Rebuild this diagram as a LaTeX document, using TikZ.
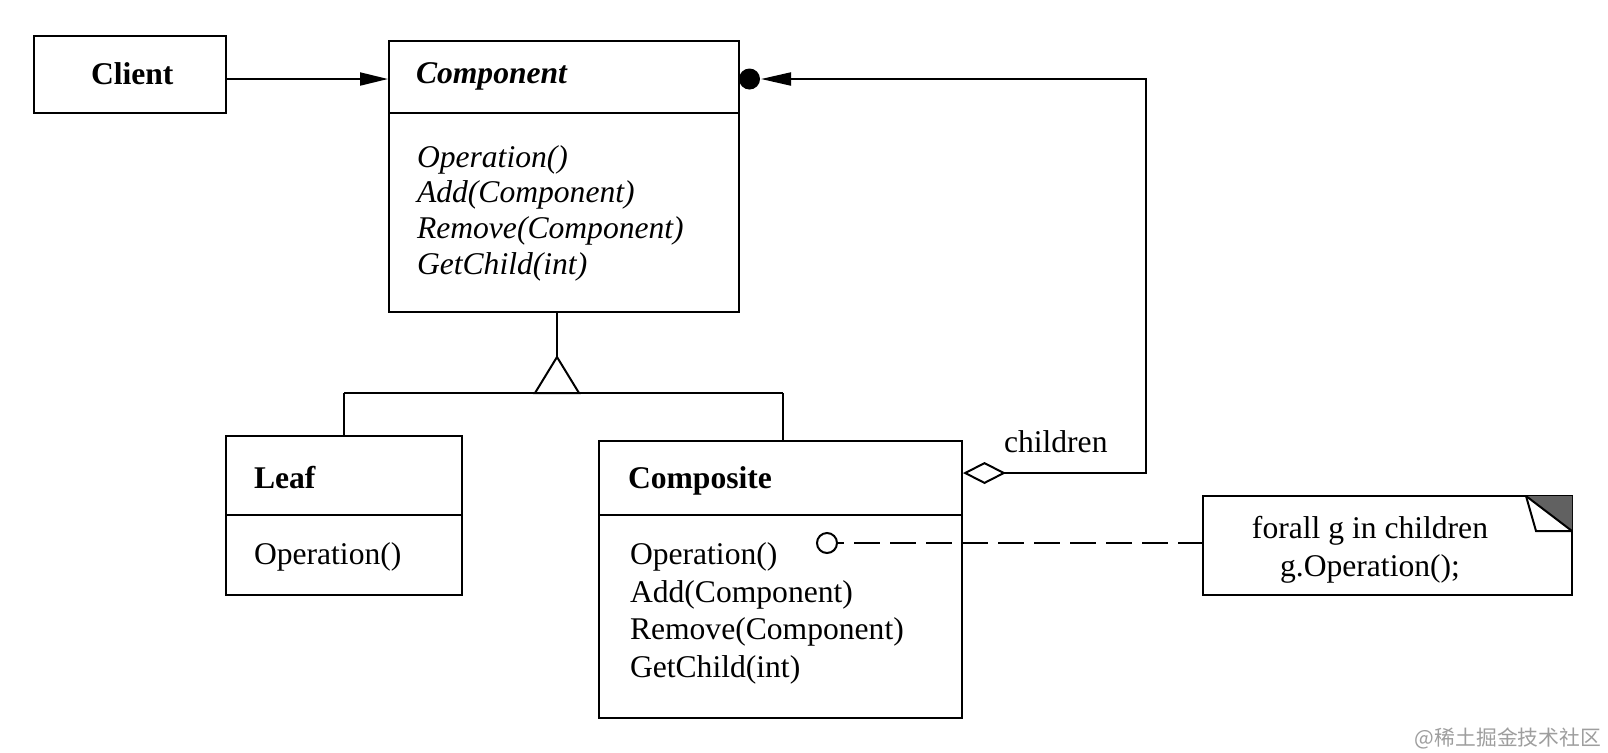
\documentclass[tikz,border=0pt]{standalone}
\usepackage{fontspec}
\setmainfont{Liberation Serif}
\newfontfamily\cjkwm{Noto Sans CJK SC}
\usetikzlibrary{arrows.meta}
\newcommand\umlfs{\fontsize{15.8pt}{19pt}\selectfont}
\begin{document}
\begin{tikzpicture}[x=0.5pt,y=-0.5pt, line width=1pt,
  box/.style={draw, line width=1pt, inner sep=0pt, fill=white},
  txt/.style={anchor=base west, inner sep=0pt, font=\umlfs},
  ctxt/.style={anchor=base, inner sep=0pt, font=\umlfs},
  ital/.style={txt, font=\umlfs\itshape},
  bold/.style={txt, font=\umlfs\bfseries},
  arr/.style={-{Triangle[length=14pt,width=6.5pt]}}]
\useasboundingbox (0,0) rectangle (1608,752);
\fill[white] (0,0) rectangle (1608,752);

% boxes
\node[box, minimum width=96pt, minimum height=38.5pt] (client) at (130,74.5) {};
\node[box, minimum width=175pt, minimum height=135.5pt] (component) at (564,176.5) {};
\node[box, minimum width=118pt, minimum height=79.5pt] (leaf) at (344,515.5) {};
\node[box, minimum width=181.5pt, minimum height=138.5pt] (composite) at (780.5,579.5) {};
\node[box, minimum width=184.5pt, minimum height=49.5pt] (note) at (1387.5,545.5) {};

% compartment dividers
\coordinate (hdrC) at (0,113);
\coordinate (hdrL) at (0,515);
\draw (component.west |- hdrC) -- (component.east |- hdrC);
\draw (leaf.west |- hdrL) -- (leaf.east |- hdrL);
\draw (composite.west |- hdrL) -- (composite.east |- hdrL);

% texts
\node[bold] (clientT) at (90,84) {Client};
\node[txt, font=\umlfs\bfseries\itshape] (componentT) at (415,83) {Component};
\node[ital] (cm1) at (416,167) {Operation()};
\node[ital] (cm2) at (416,202) {Add(Component)};
\node[ital] (cm3) at (416,238) {Remove(Component)};
\node[ital] (cm4) at (416,274) {GetChild(int)};
\node[bold] (leafT) at (253,488) {Leaf};
\node[txt] (lm1) at (253,564) {Operation()};
\node[bold] (compositeT) at (627,488) {Composite};
\node[txt] (pm1) at (629,564) {Operation()};
\node[txt] (pm2) at (629,602) {Add(Component)};
\node[txt] (pm3) at (629,639) {Remove(Component)};
\node[txt] (pm4) at (629,677) {GetChild(int)};
\node[txt] (childrenT) at (1003,452) {children};
\node[ctxt] (n1) at (1370,538) {forall g in children};
\node[ctxt] (n2) at (1370,576) {g.Operation();};

% note corner
\fill[black!62] (1526,496) -- (1572,496) -- (1572,531) -- cycle;
\draw[line join=miter] (1526,496) -- (1536,531) -- (1572,531);
\draw (1526,496) -- (1572,531);

% client -> component
\coordinate (ay) at (0,79);
\draw[arr] (client.east |- ay) -- (component.west |- ay);

% aggregation children
\node[circle, fill=black, inner sep=0pt, minimum size=10.5pt] (dot) at (749.5,79) {};
\coordinate (aggy) at (0,473);
\coordinate (turn) at (1146,79);
\draw[{Diamond[open,fill=white,length=21.5pt,width=11pt]}-{Triangle[length=15pt,width=6.5pt]}]
  (composite.east |- aggy) -| (turn) -- (dot.east);

% generalization
\coordinate (gen) at (557,357);
\coordinate (barL) at (344,393);
\coordinate (barR) at (783,393);
\draw (barL) -- (barR);
\draw (barL) -- (leaf.north -| barL);
\draw (barR) -- (composite.north -| barR);
\draw (component.south -| gen) -- (gen);
\draw[fill=white, line join=miter] (gen) -- (535,393) -- (579,393) -- cycle;

% note dependency
\node[circle, draw, fill=white, inner sep=0pt, minimum size=10pt] (oc) at (827,543) {};
\draw[dash pattern=on 13pt off 5pt, dash phase=10pt] (oc.east) -- (note.west |- oc);

% watermark
\node[anchor=base east, inner sep=0pt, text=black!38, font=\cjkwm\fontsize{10.4pt}{12pt}\selectfont] (wm) at (1602,745) {@稀土掘金技术社区};
\end{tikzpicture}
\end{document}
